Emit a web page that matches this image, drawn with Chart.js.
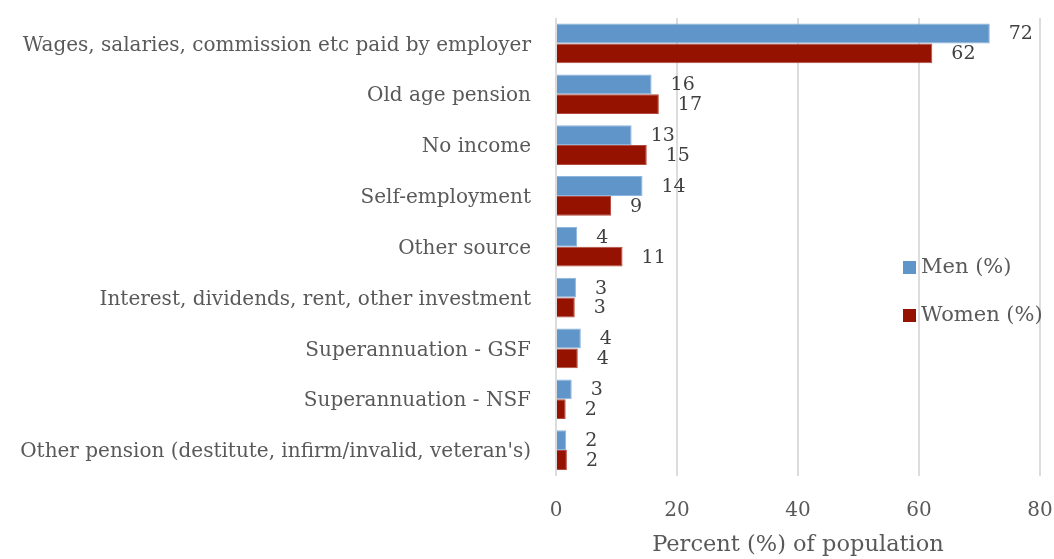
<!DOCTYPE html>
<html lang="en">
<head>
    <meta charset="UTF-8">
    <title>Income sources by sex</title>
    <script src="https://cdn.jsdelivr.net/npm/chart.js"></script>
    <style>
        * { box-sizing: border-box; margin: 0; padding: 0; }
        body { background: #fff; width: 1054px; height: 559px; overflow: hidden; }
        .wrap { position: relative; width: 1054px; height: 559px; }
    </style>
</head>
<body>
    <div class="wrap"><canvas id="chart"></canvas></div>

    <script>
        // categories and series (percent of population)
        const categories = [
            "Wages, salaries, commission etc paid by employer",
            "Old age pension",
            "No income",
            "Self-employment",
            "Other source",
            "Interest, dividends, rent, other investment",
            "Superannuation - GSF",
            "Superannuation - NSF",
            "Other pension (destitute, infirm/invalid, veteran's)"
        ];
        const menValues = [71.7, 15.8, 12.5, 14.3, 3.5, 3.3, 4.1, 2.6, 1.7];
        const womenValues = [62.2, 17.0, 15.0, 9.1, 11.0, 3.1, 3.6, 1.6, 1.8];
        const xTicks = [0, 20, 40, 60, 80];

        const FONT = "'DejaVu Serif', serif";
        const textColor = '#595959';

        // value labels at bar ends
        const valueLabels = {
            id: 'valueLabels',
            afterDatasetsDraw(chart) {
                const ctx = chart.ctx;
                ctx.save();
                ctx.font = `19px ${FONT}`;
                ctx.fillStyle = '#404040';
                ctx.textAlign = 'left';
                ctx.textBaseline = 'middle';
                chart.data.datasets.forEach((ds, i) => {
                    const meta = chart.getDatasetMeta(i);
                    meta.data.forEach((bar, j) => {
                        ctx.fillText(Math.round(ds.data[j]), bar.x + 19, bar.y + 1);
                    });
                });
                ctx.restore();
            }
        };

        // legend drawn inside plot area, like the original
        const innerLegend = {
            id: 'innerLegend',
            afterDraw(chart) {
                const ctx = chart.ctx;
                ctx.save();
                ctx.font = `21px ${FONT}`;
                ctx.textBaseline = 'middle';
                ctx.textAlign = 'left';
                const rows = [{ y: 267 }, { y: 315 }];
                chart.data.datasets.forEach((ds, i) => {
                    const y = rows[i].y;
                    ctx.fillStyle = ds.backgroundColor;
                    ctx.fillRect(903, y - 6, 13, 13);
                    ctx.fillStyle = textColor;
                    ctx.fillText(ds.label, 921, y + 1);
                });
                ctx.restore();
            }
        };

        new Chart(document.getElementById('chart'), {
            type: 'bar',
            data: {
                labels: categories,
                datasets: [
                    { label: 'Men (%)', data: menValues, backgroundColor: '#6095c9', borderColor: '#8db5dd', borderWidth: 1 },
                    { label: 'Women (%)', data: womenValues, backgroundColor: '#961200', borderColor: '#b34a3e', borderWidth: 1 }
                ]
            },
            options: {
                indexAxis: 'y',
                responsive: true,
                maintainAspectRatio: false,
                animation: false,
                categoryPercentage: 0.78,
                barPercentage: 1.0,
                layout: { padding: { top: 18, right: 14, left: 0, bottom: 0 } },
                plugins: {
                    legend: { display: false },
                    tooltip: { enabled: false }
                },
                scales: {
                    x: {
                        min: 0,
                        max: 80,
                        afterBuildTicks: scale => { scale.ticks = xTicks.map(v => ({ value: v })); },
                        afterFit: scale => { scale.height = 83.5; scale.paddingRight = 0; scale.paddingLeft = 0; },
                        grid: { color: '#dcdcdc', lineWidth: 2, drawTicks: false },
                        border: { display: false },
                        ticks: { color: textColor, font: { family: FONT, size: 20 }, padding: 23 },
                        title: {
                            display: true,
                            text: 'Percent (%) of population',
                            color: textColor,
                            font: { family: FONT, size: 22.5 },
                            padding: { top: 0, bottom: 0 }
                        }
                    },
                    y: {
                        afterFit: scale => { scale.width = 556; scale.paddingTop = 0; scale.paddingBottom = 0; },
                        grid: { display: false, drawTicks: false },
                        border: { display: false },
                        ticks: { color: textColor, font: { family: FONT, size: 20 }, padding: 25, autoSkip: false, labelOffset: 2 }
                    }
                }
            },
            plugins: [valueLabels, innerLegend]
        });
    </script>
</body>
</html>
